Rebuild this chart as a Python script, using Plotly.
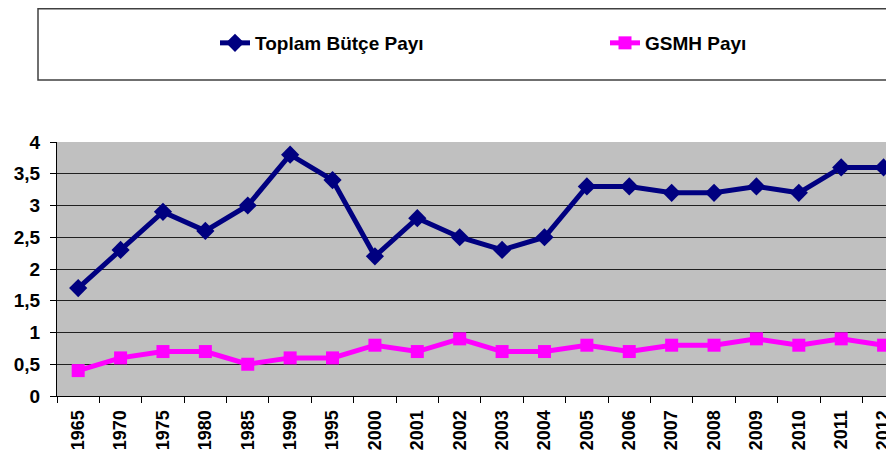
import plotly.graph_objects as go

years = ["1965", "1970", "1975", "1980", "1985", "1990", "1995", "2000", "2001", "2002",
         "2003", "2004", "2005", "2006", "2007", "2008", "2009", "2010", "2011", "2012"]
toplam_butce = [1.7, 2.3, 2.9, 2.6, 3.0, 3.8, 3.4, 2.2, 2.8, 2.5,
                2.3, 2.5, 3.3, 3.3, 3.2, 3.2, 3.3, 3.2, 3.6, 3.6]
gsmh = [0.4, 0.6, 0.7, 0.7, 0.5, 0.6, 0.6, 0.8, 0.7, 0.9,
        0.7, 0.7, 0.8, 0.7, 0.8, 0.8, 0.9, 0.8, 0.9, 0.8]
y_ticks = [0, 0.5, 1, 1.5, 2, 2.5, 3, 3.5, 4]

FONT = "Liberation Sans, Arial, sans-serif"

fig = go.Figure()
fig.add_trace(go.Scatter(
    x=years, y=toplam_butce, name="Toplam Bütçe Payı", mode="lines+markers",
    line=dict(color="#000080", width=5),
    marker=dict(symbol="diamond", size=14, color="#000080"),
))
fig.add_trace(go.Scatter(
    x=years, y=gsmh, name="GSMH Payı", mode="lines+markers",
    line=dict(color="#FF00FF", width=5),
    marker=dict(symbol="square", size=13, color="#FF00FF"),
))

# page body has an 8px margin: the figure is offset by 8px in the screenshot
OFF = 8
W, H = 894 - OFF, 459 - 2 * OFF
L, R, T, B = 57 - OFF, 0, 142 - OFF, 63 - OFF
pw = W - L - R
ph = H - T - B

def px_x(p):
    return (p - OFF - L) / pw

def px_y(p):
    return (H - B - (p - OFF)) / ph

fig.add_shape(type="rect", xref="paper", yref="paper",
              x0=px_x(38), x1=px_x(910), y0=px_y(80), y1=px_y(8.8),
              line=dict(color="#404040", width=1.5), fillcolor="white", layer="below")

fig.update_layout(
    width=W, height=H,
    margin=dict(l=L, r=R, t=T, b=B, pad=0),
    paper_bgcolor="white",
    plot_bgcolor="#C0C0C0",
    separators=",.",
    font=dict(family=FONT, color="black", size=16, weight="bold"),
    showlegend=True,
    legend=dict(
        orientation="h",
        xref="container", yref="container",
        x=(222 - OFF - 7) / W, y=1 - (43 - OFF) / H, xanchor="left", yanchor="middle",
        bgcolor="rgba(0,0,0,0)",
        font=dict(family=FONT, size=19, color="black", weight="bold"),
        entrywidth=345, entrywidthmode="pixels",
        itemwidth=30,
    ),
    xaxis=dict(
        type="category",
        range=[-0.5, (894 - 78) / 42.4],
        tickson="boundaries",
        ticks="outside", ticklen=6, tickcolor="black", tickwidth=1,
        showline=True, linecolor="black", linewidth=1,
        showgrid=False,
        tickangle=-90,
        tickfont=dict(family=FONT, size=18, color="black", weight="bold"),
        ticklabelstandoff=6,
        fixedrange=True,
    ),
    yaxis=dict(
        range=[0, 4],
        tickvals=y_ticks,
        ticks="outside", ticklen=6, tickcolor="black", tickwidth=1,
        showline=True, linecolor="black", linewidth=1,
        showgrid=True, gridcolor="#202020", gridwidth=1,
        zeroline=False,
        tickfont=dict(family=FONT, size=19, color="black", weight="bold"),
        ticklabelstandoff=6,
        fixedrange=True,
    ),
)

fig.write_html("out.html")
